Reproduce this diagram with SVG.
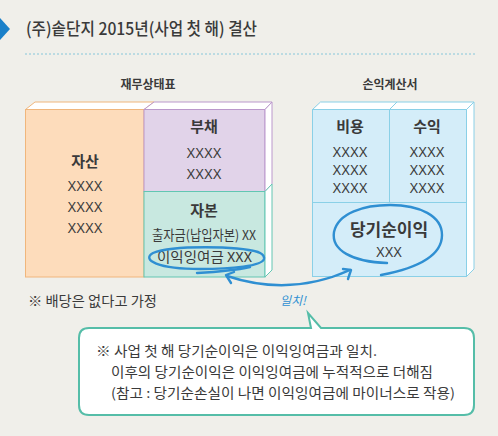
<svg xmlns="http://www.w3.org/2000/svg" width="498" height="436" viewBox="0 0 498 436">
<style>
text{font-family:"Noto Sans CJK KR","Noto Sans",sans-serif;fill:#3a3a3a}
.h{font-size:12px;font-weight:700;text-anchor:middle}
.b{font-size:15px;font-weight:700;text-anchor:middle}
.x{font-family:"Liberation Sans",Arial,sans-serif;font-size:15px;text-anchor:middle}
.t{font-size:13.5px}
.crayon{fill:none;stroke:#2f8fd2;stroke-width:2.4;stroke-linecap:round;stroke-linejoin:round}
</style>
<rect width="498" height="436" fill="#f0efea"/>
<g id="title">
<polygon points="0,18 10,29 0,40" fill="#1a80c9"/>
<text x="26" y="35" font-size="17" font-weight="500" textLength="231" lengthAdjust="spacingAndGlyphs" fill="#333">(주)솥단지 2015년(사업 첫 해) 결산</text>
<line x1="25" y1="54" x2="475" y2="54" stroke="#86c6da" stroke-width="1" stroke-dasharray="2,2"/>
</g>
<g id="balance-sheet">
<text class="h" x="148" y="89">재무상태표</text>
<polygon points="25.5,109.5 35,102 154,102 144,109.5" fill="#fff" stroke="#f0b67c" stroke-width="1"/>
<polygon points="144,109.5 154,102 272,102 265,109.5" fill="#fff" stroke="#bb98cc" stroke-width="1"/>
<rect x="25.5" y="109.5" width="118.5" height="167.5" fill="#fddcbb" stroke="#f0b67c" stroke-width="1"/>
<g id="liabilities">
<rect x="144" y="109.5" width="121" height="82" fill="#e1d3e9" stroke="#bb98cc" stroke-width="1"/>
<polygon points="265,109.5 272,102 272,184 265,191.5" fill="#fff" stroke="#bb98cc" stroke-width="1"/>
<text class="b" x="204" y="132">부채</text>
<text class="x" x="204" y="158" textLength="35" lengthAdjust="spacingAndGlyphs">XXXX</text>
<text class="x" x="204" y="179" textLength="35" lengthAdjust="spacingAndGlyphs">XXXX</text>
</g>
<g id="equity">
<rect x="144" y="191.5" width="121" height="85.5" fill="#c8e8e0" stroke="#62c6b2" stroke-width="1"/>
<polygon points="265,191.5 272,184 272,270 265,277" fill="#fff" stroke="#62c6b2" stroke-width="1"/>
<text class="b" x="204" y="216">자본</text>
<text class="t" x="152" y="240" textLength="104" lengthAdjust="spacingAndGlyphs">출자금(납입자본) XX</text>
<text class="t" x="157" y="262" textLength="95" lengthAdjust="spacingAndGlyphs">이익잉여금 XXX</text>
</g>
<g id="assets">
<text class="b" x="85" y="167">자산</text>
<text class="x" x="85" y="191" textLength="35" lengthAdjust="spacingAndGlyphs">XXXX</text>
<text class="x" x="85" y="212" textLength="35" lengthAdjust="spacingAndGlyphs">XXXX</text>
<text class="x" x="85" y="233" textLength="35" lengthAdjust="spacingAndGlyphs">XXXX</text>
</g>
</g>
<g id="income-statement">
<text class="h" x="390" y="89">손익계산서</text>
<polygon points="312.5,109.5 320.5,102 474,102 466.5,109.5" fill="#fff" stroke="#8ad0e7" stroke-width="1"/>
<line x1="389.5" y1="109.5" x2="397" y2="102" stroke="#8ad0e7" stroke-width="1"/>
<polygon points="466.5,109.5 474,102 474,269 466.5,276.5" fill="#fff" stroke="#8ad0e7" stroke-width="1"/>
<rect x="312.5" y="109.5" width="154" height="167" fill="#d4edf9" stroke="#8ad0e7" stroke-width="1"/>
<line x1="389.5" y1="109.5" x2="389.5" y2="202.5" stroke="#8ad0e7" stroke-width="1"/>
<line x1="312.5" y1="202.5" x2="466.5" y2="202.5" stroke="#8ad0e7" stroke-width="1"/>
<g id="expenses">
<text class="b" x="350" y="132">비용</text>
<text class="x" x="350" y="157" textLength="35" lengthAdjust="spacingAndGlyphs">XXXX</text>
<text class="x" x="350" y="175" textLength="35" lengthAdjust="spacingAndGlyphs">XXXX</text>
<text class="x" x="350" y="193" textLength="35" lengthAdjust="spacingAndGlyphs">XXXX</text>
</g>
<g id="revenue">
<text class="b" x="427" y="132">수익</text>
<text class="x" x="427" y="157" textLength="35" lengthAdjust="spacingAndGlyphs">XXXX</text>
<text class="x" x="427" y="175" textLength="35" lengthAdjust="spacingAndGlyphs">XXXX</text>
<text class="x" x="427" y="193" textLength="35" lengthAdjust="spacingAndGlyphs">XXXX</text>
</g>
<g id="net-income">
<text x="389" y="236" font-size="17" font-weight="700" text-anchor="middle">당기순이익</text>
<text class="x" x="389" y="257" textLength="26" lengthAdjust="spacingAndGlyphs">XXX</text>
</g>
</g>
<g id="connectors">
<path class="crayon" d="M258,252 C238,246 172,245 153,253 C141,260 158,269 200,269 C232,269 262,266 264,259 C265,254 258,251 248,250"/>
<path class="crayon" d="M197,273 C215,272 232,271 250,267" stroke-width="1.8"/>
<path class="crayon" d="M387,263 C352,262 331,250 334,232 C338,213 364,205 390,205 C420,205 442,216 442,235 C442,255 418,268 381,275"/>
<path class="crayon" d="M227,276 Q290,297 350,270"/>
<path class="crayon" d="M234,272 L226,275 L231,283"/>
<path class="crayon" d="M343,269 L351,270 L348,279"/>
<text x="293" y="305" font-size="12" font-style="italic" text-anchor="middle" style="fill:#2f8fd2">일치!</text>
</g>
<g id="note">
<text class="t" x="28" y="306" textLength="129" lengthAdjust="spacingAndGlyphs">※ 배당은 없다고 가정</text>
</g>
<g id="callout">
<path d="M89,328 L311,328 L308,313 L321,328 L464,328 Q474,328 474,338 L474,405 Q474,415 464,415 L89,415 Q79,415 79,405 L79,338 Q79,328 89,328 Z" fill="#fff" stroke="#55bda8" stroke-width="2"/>
<text class="t" x="96" y="356" textLength="281" lengthAdjust="spacingAndGlyphs">※ 사업 첫 해 당기순이익은 이익잉여금과 일치.</text>
<text class="t" x="111" y="377" textLength="322" lengthAdjust="spacingAndGlyphs">이후의 당기순이익은 이익잉여금에 누적적으로 더해짐</text>
<text class="t" x="111" y="398" textLength="344" lengthAdjust="spacingAndGlyphs">(참고 : 당기순손실이 나면 이익잉여금에 마이너스로 작용)</text>
</g>
</svg>
